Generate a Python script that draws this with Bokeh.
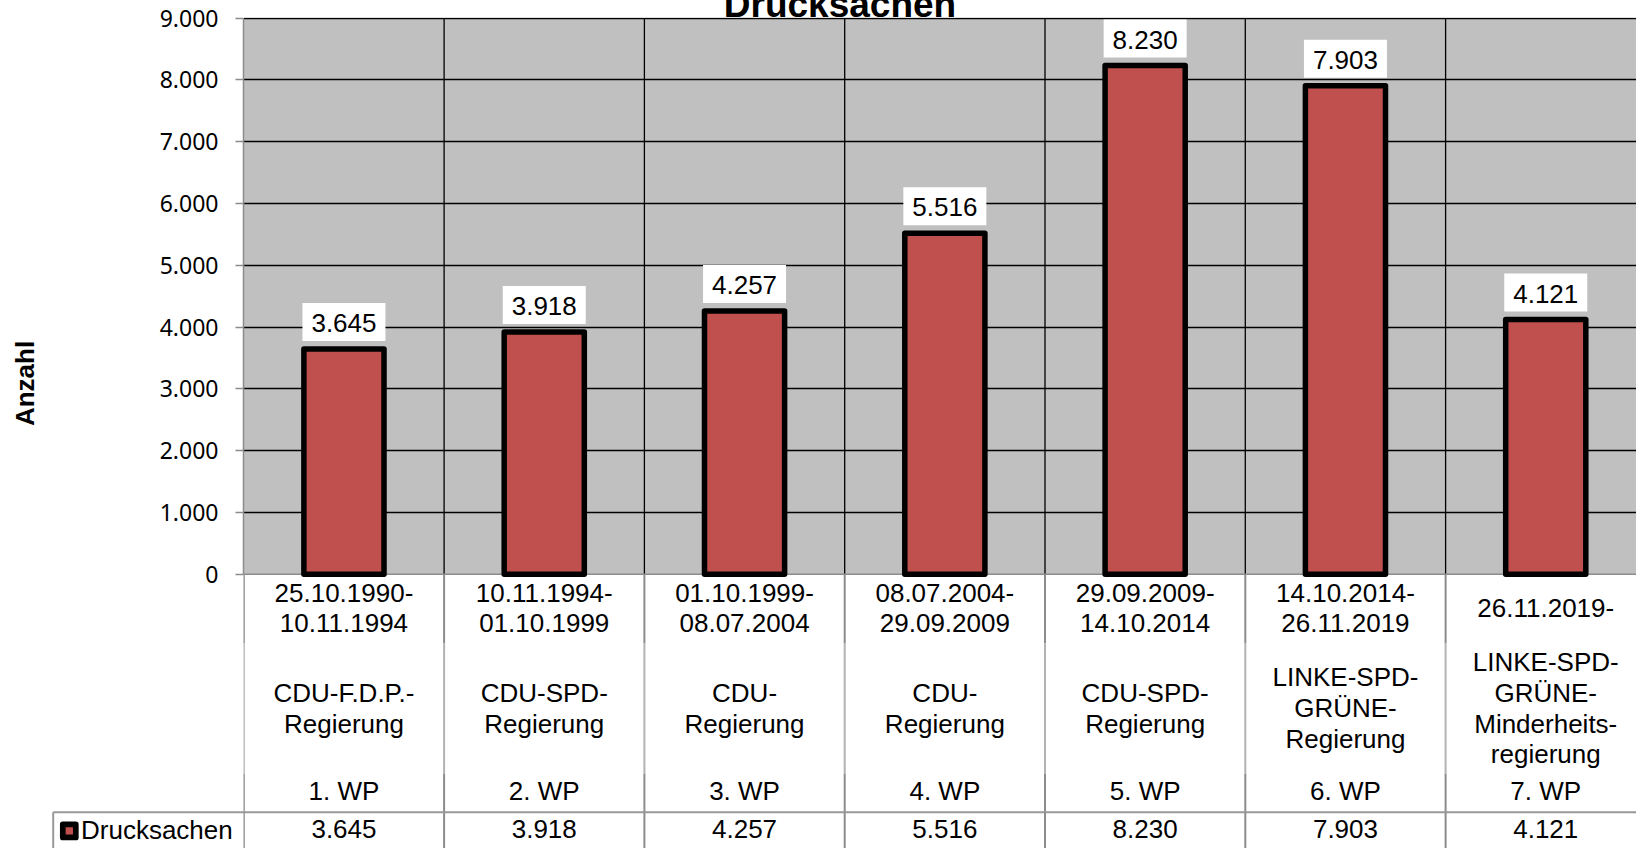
import math
from bokeh.plotting import figure
from bokeh.models import Range1d, FixedTicker
from bokeh.core.properties import value
from bokeh.embed import file_html
from bokeh.resources import INLINE

# ---------------- data ----------------
chart_title = "Drucksachen"
y_axis_title = "Anzahl"
series_name = "Drucksachen"
zeitraum = [
    "25.10.1990-\n10.11.1994",
    "10.11.1994-\n01.10.1999",
    "01.10.1999-\n08.07.2004",
    "08.07.2004-\n29.09.2009",
    "29.09.2009-\n14.10.2014",
    "14.10.2014-\n26.11.2019",
    "26.11.2019-",
]
regierung = [
    "CDU-F.D.P.-\nRegierung",
    "CDU-SPD-\nRegierung",
    "CDU-\nRegierung",
    "CDU-\nRegierung",
    "CDU-SPD-\nRegierung",
    "LINKE-SPD-\nGRÜNE-\nRegierung",
    "LINKE-SPD-\nGRÜNE-\nMinderheits-\nregierung",
]
wahlperiode = ["1. WP", "2. WP", "3. WP", "4. WP", "5. WP", "6. WP", "7. WP"]
drucksachen = [3645, 3918, 4257, 5516, 8230, 7903, 4121]
y_ticks = [0, 1000, 2000, 3000, 4000, 5000, 6000, 7000, 8000, 9000]
y_tick_labels = ["0", "1.000", "2.000", "3.000", "4.000", "5.000",
                 "6.000", "7.000", "8.000", "9.000"]


def fmt(v):
    return f"{v:,}".replace(",", ".")


# ---------------- geometry (page pixels) ----------------
W, H = 1636, 848             # figure size
FRAME_LEFT, FRAME_TOP = 243, 17
CAT0 = 243.3                 # page x of first category boundary
CAT_W = 200.3                # page px per category
Y0 = 573.7                   # page y of value 0
PX_PER = (Y0 - 17.5) / y_ticks[-1]   # px per unit


def xd(px):
    return (px - CAT0) / CAT_W


def yd(py):
    return (Y0 - py) / PX_PER


n = len(drucksachen)
xc = [i + 0.5 for i in range(n)]
ymax = y_ticks[-1]

p = figure(
    width=W, height=H,
    x_range=Range1d(xd(FRAME_LEFT), xd(W)),
    y_range=Range1d(yd(H), yd(FRAME_TOP)),
    x_axis_type=None,
    output_backend="svg", toolbar_location=None,
    min_border_left=FRAME_LEFT, min_border_top=FRAME_TOP,
    min_border_right=0, min_border_bottom=0,
)
p.outline_line_color = None
p.background_fill_color = "white"
p.border_fill_color = "white"
for g in p.xgrid:
    g.visible = False

# y axis
yax = p.yaxis[0]
yax.ticker = FixedTicker(ticks=y_ticks)
yax.major_label_overrides = {t: l for t, l in zip(y_ticks, y_tick_labels)}
yax.bounds = (y_ticks[0], ymax)
yax.axis_line_color = "#8c8c8c"
yax.axis_line_width = 1.5
yax.major_tick_line_color = "#8c8c8c"
yax.major_tick_line_width = 1.5
yax.major_tick_out = 8
yax.major_tick_in = 0
yax.minor_tick_line_color = None
yax.major_label_text_font = "Noto Sans"
yax.major_label_text_font_size = "23px"
yax.major_label_text_color = "black"
yax.major_label_standoff = 17

# grid
p.ygrid.ticker = FixedTicker(ticks=y_ticks[1:])
p.ygrid.grid_line_color = "black"
p.ygrid.grid_line_width = 1.3

# plot area background
p.quad(left=[0], right=[n], bottom=[0], top=[ymax],
       fill_color="#C0C0C0", line_color=None, level="image")

# vertical black category lines in plot area
bx = list(range(1, n + 1))
p.segment(x0=bx, y0=[0] * n, x1=bx, y1=[ymax] * n,
          line_color="black", line_width=1.3)

# category axis line at 0
p.segment(x0=[0], y0=[0], x1=[n], y1=[0], line_color="#8c8c8c", line_width=1.5)

# table vertical lines
tb = list(range(0, n + 1))
for (a, b, c) in [(Y0, 643, "#8c8c8c"), (643, 773, "#b3b3b3"), (773, 850, "#8c8c8c")]:
    p.segment(x0=tb, y0=[yd(a)] * len(tb), x1=tb, y1=[yd(b)] * len(tb),
              line_color=c, line_width=2)

# data table horizontal line and legend cell border
p.segment(x0=[xd(52.7)], y0=[yd(811.7)], x1=[n], y1=[yd(811.7)],
          line_color="#999999", line_width=2, level="overlay")
p.segment(x0=[xd(52.7)], y0=[yd(811.7)], x1=[xd(52.7)], y1=[yd(850)],
          line_color="#999999", line_width=2, level="overlay")

# bars
p.vbar(x=xc, top=drucksachen, bottom=0, width=0.4,
       fill_color="#C0504D", line_color="black", line_width=5.5,
       line_join="round")

# data labels
p.rect(x=xc, y=[v + 27 / PX_PER for v in drucksachen], width=83, height=38,
       width_units="screen", height_units="screen",
       fill_color="white", line_color=None)
p.text(x=xc, y=[v + 26 / PX_PER for v in drucksachen],
       text=[fmt(v) for v in drucksachen],
       text_font=value("Liberation Sans"), text_font_size="26px",
       text_align="center", text_baseline="middle", text_color="black")

# category table texts (y = vertical centre of each line)
tx, ty, tt = [], [], []
for i in range(n):
    lines = zeitraum[i].split("\n")
    for j, s in enumerate(lines):
        tx.append(xc[i]); tt.append(s)
        ty.append(yd(607.3 + (j - (len(lines) - 1) / 2) * 29.5))
    lines = regierung[i].split("\n")
    for j, s in enumerate(lines):
        tx.append(xc[i]); tt.append(s)
        ty.append(yd(707.6 + (j - (len(lines) - 1) / 2) * 30.8))
    tx.append(xc[i]); tt.append(wahlperiode[i]); ty.append(yd(790.8))
    tx.append(xc[i]); tt.append(fmt(drucksachen[i])); ty.append(yd(828.8))
p.text(x=tx, y=ty, text=tt, text_font=value("Liberation Sans"),
       text_font_size="26px", text_align="center", text_baseline="middle",
       text_color="black")

# legend key and series name in the data table row header
p.rect(x=[xd(68.8)], y=[yd(830.4)], width=13, height=13,
       width_units="screen", height_units="screen",
       fill_color="#C0504D", line_color="black", line_width=5.7,
       line_join="round", level="overlay")
p.text(x=[xd(80.5)], y=[yd(829.5)], text=[series_name],
       text_font=value("Liberation Sans"), text_font_size="26px",
       text_align="left", text_baseline="middle", text_color="black",
       level="overlay")

# title (cut off at the top edge) and y axis title
p.text(x=[xd(839.5)], y=[yd(4.2)], text=[chart_title],
       text_font=value("Liberation Sans"), text_font_style="bold",
       text_font_size="37px", text_align="center", text_baseline="middle",
       text_color="black", level="overlay")
p.text(x=[xd(24)], y=[yd(383)], text=[y_axis_title], angle=math.pi / 2,
       text_font=value("Liberation Sans"), text_font_style="bold",
       text_font_size="26px", text_align="center", text_baseline="middle",
       text_color="black", level="overlay")

open("out.html", "w").write(file_html(p, INLINE, title="Drucksachen"))
